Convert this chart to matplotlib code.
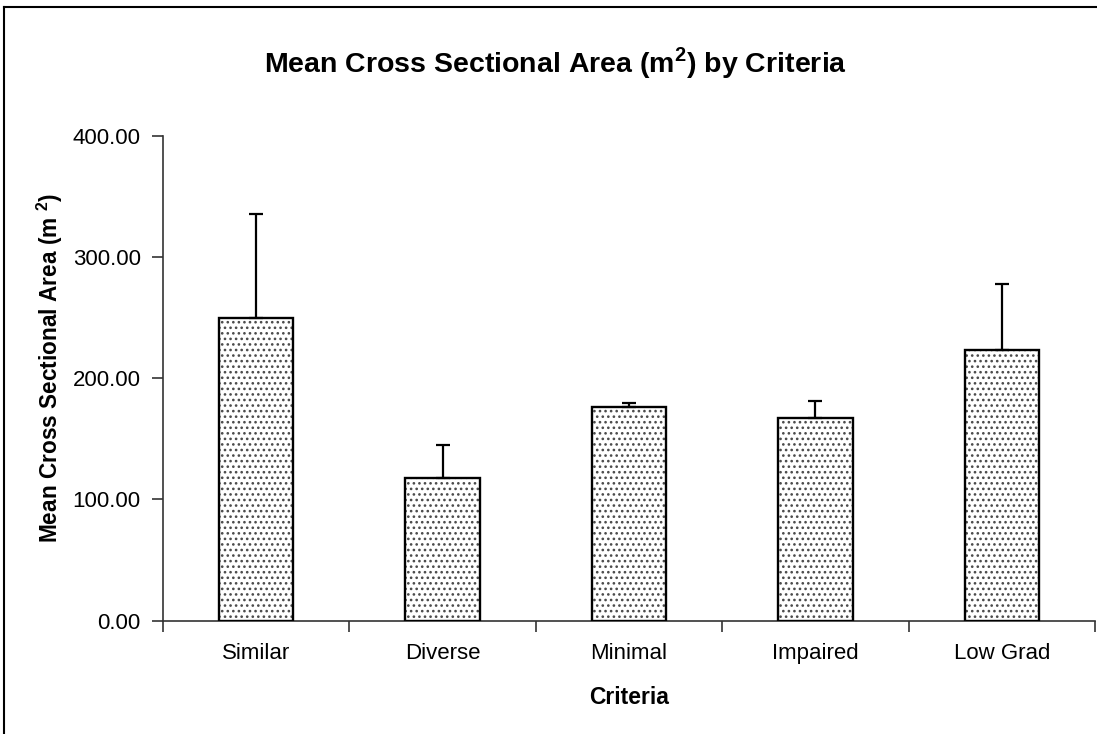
import numpy as np
import matplotlib
matplotlib.use("Agg")
import matplotlib.pyplot as plt
from matplotlib.lines import Line2D
from matplotlib.ticker import FixedLocator, FormatStrFormatter

plt.rcParams['font.family'] = ['Liberation Sans', 'DejaVu Sans']
plt.rcParams['mathtext.fontset'] = 'custom'
plt.rcParams['mathtext.rm'] = 'Liberation Sans'
plt.rcParams['mathtext.bf'] = 'Liberation Sans:bold'
plt.rcParams['hatch.linewidth'] = 1.1

# data
criteria = ['Similar', 'Diverse', 'Minimal', 'Impaired', 'Low Grad']
mean_area = [250.0, 118.0, 176.5, 167.5, 223.5]
err_up = [85.5, 27.0, 3.0, 13.5, 54.0]
y_ticks = [0, 100, 200, 300, 400]

W, H = 1097, 734
fig = plt.figure(figsize=(W / 100, H / 100), dpi=100)
# plot area in pixels: x 163..1095, y 135.7..620.7
ax = fig.add_axes([163 / W, (H - 620.7) / H, (1095 - 163) / W, (620.7 - 135.7) / H])

x = np.arange(len(criteria))
# dotted fill first, then black outline on top
ax.bar(x, mean_area, width=0.4, color='white', edgecolor='#4a4a4a',
       linewidth=0, hatch='...', zorder=2)
ax.bar(x, mean_area, width=0.4, fill=False, edgecolor='black',
       linewidth=1.7, zorder=3)
ax.errorbar(x, mean_area, yerr=[np.zeros(len(x)), err_up], fmt='none',
            ecolor='black', elinewidth=1.6, capsize=4.8, capthick=1.6, zorder=4)

ax.set_xlim(-0.5, len(criteria) - 0.5)
ax.set_ylim(0, 400)
ax.set_yticks(y_ticks)
ax.yaxis.set_major_formatter(FormatStrFormatter('%.2f'))

# category boundaries get the tick marks, labels sit at the centres
ax.xaxis.set_major_locator(FixedLocator(np.arange(-0.5, len(criteria), 1.0)))
ax.xaxis.set_minor_locator(FixedLocator(x))
ax.set_xticklabels([])
ax.set_xticklabels(criteria, minor=True)
ax.tick_params(axis='x', which='major', length=8, width=1.2, color='#333333')
ax.tick_params(axis='x', which='minor', length=0, pad=16, labelsize=16)
ax.tick_params(axis='y', length=8, width=1.2, color='#333333', pad=8, labelsize=16)

for s in ['top', 'right']:
    ax.spines[s].set_visible(False)
for s in ['left', 'bottom']:
    ax.spines[s].set_color('#333333')
    ax.spines[s].set_linewidth(1.2)

ax.set_xlabel('Criteria', fontsize=16.5, fontweight='bold', va='center')
ax.xaxis.set_label_coords(0.5, (620.7 - 698) / 485)
ax.set_ylabel('Mean Cross Sectional Area (m $^{\\mathbf{2}}$)', fontsize=16.3,
              fontweight='bold', va='center')
ax.yaxis.set_label_coords((50 - 163) / 932, (620.7 - 368) / 485)

fig.suptitle('Mean Cross Sectional Area (m$^{\\mathbf{2}}$) by Criteria',
             x=555 / W, y=1 - 63 / H, va='center', fontsize=20.5, fontweight='bold')

# outer chart frame (only left and top edges show in the reference)
fig.add_artist(Line2D([4 / W, 4 / W], [0, 1 - 7 / H], transform=fig.transFigure,
                      color='black', linewidth=1.5))
fig.add_artist(Line2D([4 / W, 1], [1 - 7 / H, 1 - 7 / H], transform=fig.transFigure,
                      color='black', linewidth=1.5))

fig.savefig('out.png', dpi=100)
